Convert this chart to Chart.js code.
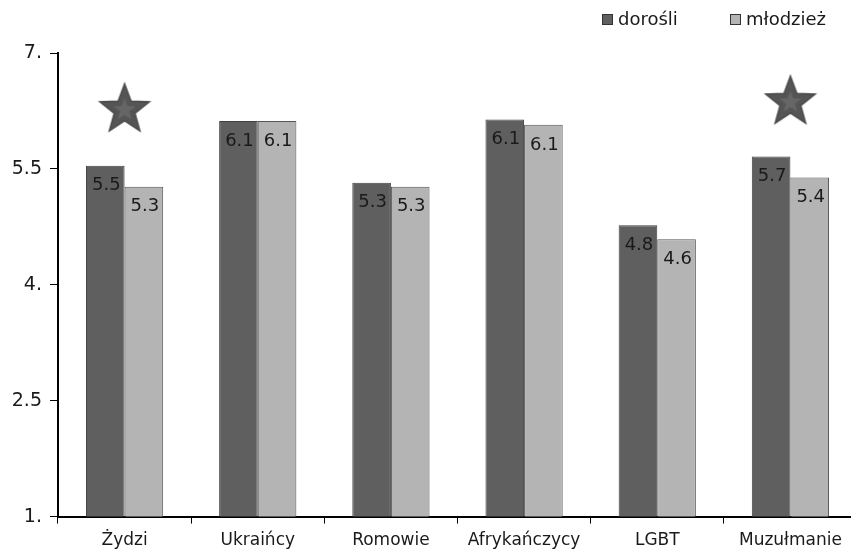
<!DOCTYPE html>
<html>
<head>
<meta charset="utf-8">
<script src="https://cdn.jsdelivr.net/npm/chart.js@4"></script>
<style>
  html, body { margin: 0; padding: 0; background: #fff; overflow: hidden; }
  #wrap { width: 851px; height: 549px; overflow: hidden; }
</style>
</head>
<body>
<div id="wrap"><canvas id="chart" width="862" height="549"></canvas></div>
<script>
// dane
const categories = ['Żydzi', 'Ukraińcy', 'Romowie', 'Afrykańczycy', 'LGBT', 'Muzułmanie'];
const adults = [5.54, 6.12, 5.32, 6.14, 4.77, 5.66];   // dorośli
const youth  = [5.27, 6.12, 5.27, 6.07, 4.59, 5.39];   // młodzież
const stars  = [6.29, null, null, null, null, 6.39];   // gwiazdki
const yTicks = [1, 2.5, 4, 5.5, 7];

const FONT = "'DejaVu Sans', Verdana, sans-serif";

// gwiazdka jako obrazek do pointStyle
function makeStar(r) {
    const c = document.createElement('canvas');
    c.width = r * 2 + 4; c.height = r * 2 + 4;
    const g = c.getContext('2d');
    const drawStar = (rad, fill, stroke) => {
        g.beginPath();
        for (let i = 0; i < 10; i++) {
            const rr = i % 2 === 0 ? rad : rad * 0.42;
            const a = -Math.PI / 2 + i * Math.PI / 5;
            const x = c.width / 2 + rr * Math.cos(a);
            const y = c.height / 2 + 2 + rr * Math.sin(a);
            i === 0 ? g.moveTo(x, y) : g.lineTo(x, y);
        }
        g.closePath();
        g.fillStyle = fill; g.fill();
        if (stroke) { g.strokeStyle = stroke; g.lineWidth = 1.5; g.stroke(); }
    };
    drawStar(r, '#555555', '#4a4a4a');
    drawStar(r * 0.45, '#666666');
    return c;
}
const starImg = makeStar(26);

// etykiety wartości wewnątrz słupków
const barLabels = {
    id: 'barLabels',
    afterDatasetsDraw(chart) {
        const ctx = chart.ctx;
        ctx.save();
        ctx.font = '18px ' + FONT;
        ctx.fillStyle = '#1a1a1a';
        ctx.textAlign = 'center';
        ctx.textBaseline = 'top';
        [0, 1].forEach(di => {
            const meta = chart.getDatasetMeta(di);
            meta.data.forEach((bar, i) => {
                const v = chart.data.datasets[di].data[i];
                ctx.fillText(v.toFixed(1), bar.x + 1, bar.y + 11);
            });
        });
        ctx.restore();
    }
};

// legenda rysowana ręcznie w prawym górnym rogu
const topLegend = {
    id: 'topLegend',
    afterDraw(chart) {
        const ctx = chart.ctx;
        ctx.save();
        ctx.font = '18px ' + FONT;
        ctx.textBaseline = 'middle';
        const xs = [602, 730];
        [0, 1].forEach(di => {
            const ds = chart.data.datasets[di];
            ctx.fillStyle = ds.backgroundColor;
            ctx.fillRect(xs[di], 14, 11, 11);
            ctx.strokeStyle = '#333';
            ctx.lineWidth = 1;
            ctx.strokeRect(xs[di] + 0.5, 14.5, 10, 10);
            ctx.fillStyle = '#1a1a1a';
            ctx.fillText(ds.label, xs[di] + 16, 20);
        });
        ctx.restore();
    }
};

new Chart(document.getElementById('chart'), {
    type: 'bar',
    data: {
        labels: categories,
        datasets: [
            {
                label: 'dorośli',
                data: adults,
                backgroundColor: '#5f5f5f',
                borderColor: '#404040',
                borderWidth: 1,
                categoryPercentage: 0.58,
                barPercentage: 1.0,
                order: 2
            },
            {
                label: 'młodzież',
                data: youth,
                backgroundColor: '#b4b4b4',
                borderColor: '#555555',
                borderWidth: 1,
                categoryPercentage: 0.58,
                barPercentage: 1.0,
                order: 2
            },
            {
                type: 'line',
                label: 'star',
                data: stars,
                showLine: false,
                pointStyle: starImg,
                order: 1
            }
        ]
    },
    options: {
        responsive: false,
        animation: false,
        layout: { padding: { top: 53, right: 0, left: 0, bottom: -9 } },
        plugins: {
            legend: { display: false },
            tooltip: { enabled: false }
        },
        scales: {
            x: {
                grid: { offset: true, drawOnChartArea: false, tickLength: 7, color: '#000' },
                border: { color: '#000', width: 2 },
                ticks: { color: '#1a1a1a', font: { family: FONT, size: 17 }, padding: 7, maxRotation: 0 }
            },
            y: {
                min: 1,
                max: 7,
                afterBuildTicks: axis => { axis.ticks = yTicks.map(v => ({ value: v })); },
                afterFit: axis => { axis.width = 58; },
                grid: { drawOnChartArea: false, tickLength: 8, color: '#000' },
                border: { color: '#000', width: 2 },
                ticks: {
                    color: '#1a1a1a',
                    font: { family: FONT, size: 19 },
                    padding: 8,
                    callback: v => Number.isInteger(v) ? v + '.' : String(v)
                }
            }
        }
    },
    plugins: [barLabels, topLegend]
});
</script>
</body>
</html>
